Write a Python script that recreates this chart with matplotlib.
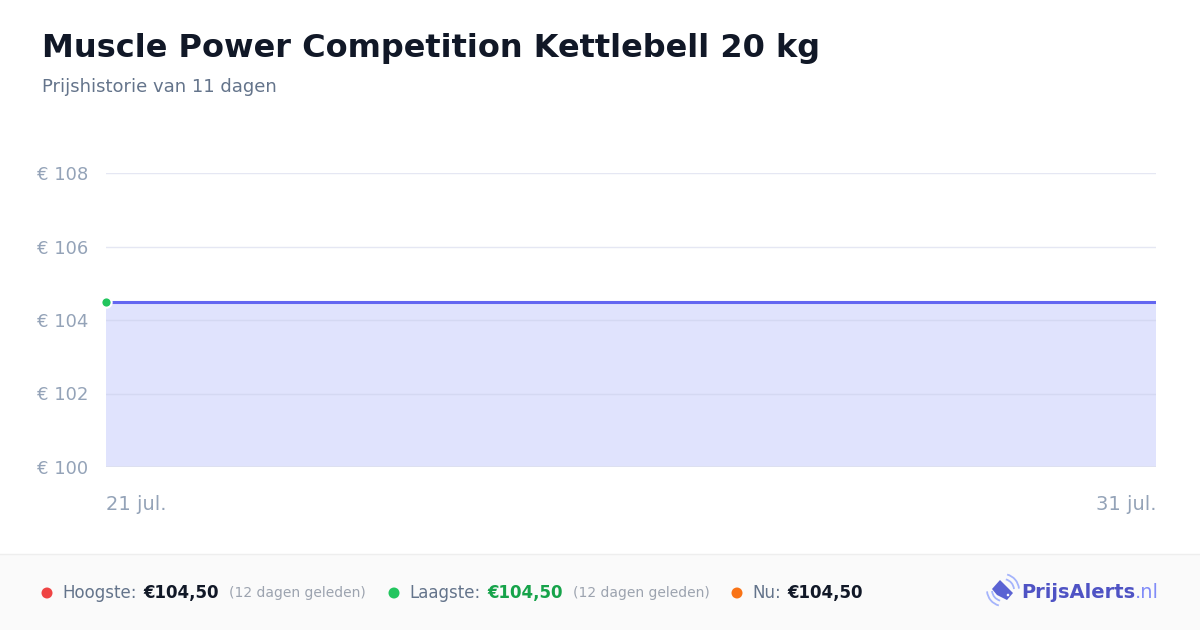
import numpy as np
import pandas as pd
from matplotlib import pyplot as plt
from matplotlib.patches import Polygon, Arc, Circle, Rectangle

# Data
dates = pd.date_range('2024-07-21', '2024-07-31', freq='D')
prices = [104.5] * 11
y_ticks = [100, 102, 104, 106, 108]
x_labels = ['21 jul.', '31 jul.']

title = 'Muscle Power Competition Kettlebell 20 kg'
subtitle = 'Prijshistorie van 11 dagen'

# Colours
c_line = '#6366f1'
c_fill = '#e0e3fd'
c_tick = '#94a3b8'
c_grid = '#e5e7eb'

plt.rcParams['font.family'] = ['DejaVu Sans']

fig = plt.figure(figsize=(12, 6.3), dpi=100)
fig.patch.set_facecolor('white')

W, H = 1200., 630.
def fx(px): return px / W
def fy(py): return 1 - py / H

# Header
fig.text(fx(42), fy(48), title, fontsize=23, fontweight='bold', color='#111827', va='center')
fig.text(fx(42), fy(87), subtitle, fontsize=13, color='#64748b', va='center')

# Chart area
ax = fig.add_axes([fx(106), fy(467), (1156 - 106) / W, (467 - 173) / H])
x = np.arange(len(dates))
ax.fill_between(x, 100, prices, color=c_fill, linewidth=0, zorder=1)
for v in y_ticks[1:]:
    ax.axhline(v, color='#c7cbe6', alpha=0.45, linewidth=1, zorder=2)
ax.plot(x, prices, color=c_line, linewidth=2.2, zorder=3)
ax.scatter([x[0]], [prices[0]], s=55, color='#22c55e', edgecolor='white', linewidth=1.5,
           zorder=4, clip_on=False)
ax.set_xlim(x[0], x[-1])
ax.set_ylim(100, 108)
ax.set_yticks(y_ticks)
ax.set_yticklabels([f'€ {v}' for v in y_ticks])
ax.set_xticks([x[0], x[-1]])
ax.set_xticklabels(x_labels)
for lab, ha in zip(ax.get_xticklabels(), ['left', 'right']):
    lab.set_horizontalalignment(ha)
ax.tick_params(axis='both', length=0, colors=c_tick)
ax.tick_params(axis='y', pad=13, labelsize=13)
ax.tick_params(axis='x', pad=20, labelsize=14)
for s in ax.spines.values():
    s.set_visible(False)
ax.axhline(100, color='#dde0ee', linewidth=1.2, zorder=2)
ax.set_facecolor('none')

# Footer
fig.patches.append(Rectangle((0, 0), 1, fy(554), transform=fig.transFigure,
                             facecolor='#fafafa', edgecolor='none', zorder=0))
fig.lines.append(plt.Line2D([0, 1], [fy(554), fy(554)], transform=fig.transFigure,
                            color='#eeeeee', linewidth=1))

fy_foot = fy(593)
def dot(px, color):
    fig.patches.append(Circle((px / 100, (H - 593) / 100), radius=0.055,
                              transform=fig.dpi_scale_trans, facecolor=color, edgecolor='none'))

dot(47, '#ef4444')
fig.text(fx(62), fy_foot, 'Hoogste:', fontsize=12, color='#64748b', va='center')
fig.text(fx(143), fy_foot, '€104,50', fontsize=12, fontweight='bold', color='#111827', va='center')
fig.text(fx(229), fy_foot, '(12 dagen geleden)', fontsize=10, color='#9ca3af', va='center')

dot(394, '#22c55e')
fig.text(fx(409), fy_foot, 'Laagste:', fontsize=12, color='#64748b', va='center')
fig.text(fx(487), fy_foot, '€104,50', fontsize=12, fontweight='bold', color='#16a34a', va='center')
fig.text(fx(573), fy_foot, '(12 dagen geleden)', fontsize=10, color='#9ca3af', va='center')

dot(737, '#f97316')
fig.text(fx(752), fy_foot, 'Nu:', fontsize=12, color='#64748b', va='center')
fig.text(fx(787), fy_foot, '€104,50', fontsize=12, fontweight='bold', color='#111827', va='center')

# Logo (tag icon + wordmark)
def px2in(px, py): return (px / 100, (H - py) / 100)
tag = Polygon([px2in(992, 589), px2in(1000, 580), px2in(1013, 593), px2in(1007, 600),
               px2in(997, 595)], closed=True, transform=fig.dpi_scale_trans,
              facecolor='#5b63d3', edgecolor='none')
fig.patches.append(tag)
fig.patches.append(Circle(px2in(1008, 595), radius=0.013, transform=fig.dpi_scale_trans,
                          facecolor='white', edgecolor='none'))
for r in (11, 16):
    for t1, t2 in ((5, 75), (185, 255)):
        fig.patches.append(Arc(px2in(1003, 590), r * 2 / 100, r * 2 / 100, theta1=t1, theta2=t2,
                               transform=fig.dpi_scale_trans, color='#a5b4fc', linewidth=1.3))
t = fig.text(fx(1021), fy_foot, 'PrijsAlerts', fontsize=14, fontweight='bold', color='#4f53c4', va='center')
fig.canvas.draw()
bb = t.get_window_extent()
fig.text(bb.x1 / W, fy_foot, '.nl', fontsize=14, color='#818cf8', va='center')

fig.savefig('out.png', dpi=100, facecolor='white')
